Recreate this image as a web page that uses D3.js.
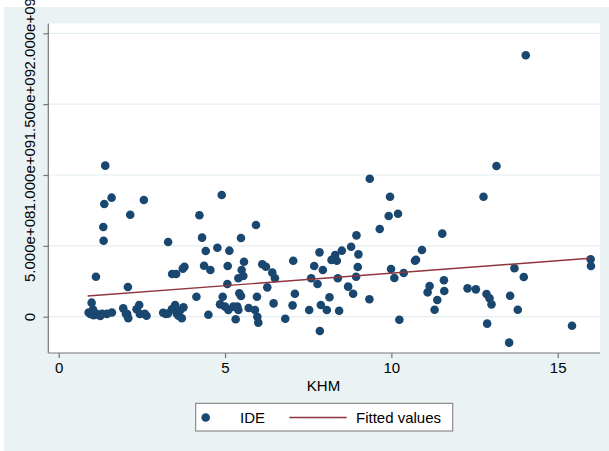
<!DOCTYPE html>
<html>
<head>
<meta charset="utf-8">
<script src="https://cdn.jsdelivr.net/npm/d3@7"></script>
<style>
  body { margin: 0; background: #fff; }
  svg text { font-family: 'Liberation Sans', Arial, sans-serif; font-size: 15px; fill: #000; }
</style>
</head>
<body>
<div id="chart"></div>
<script>
// KHM (x) and IDE (y)
const khm = [
  0.90, 0.95, 1.00, 1.05, 1.10, 1.17, 1.25, 1.30, 1.45, 1.60, 0.99, 1.03, 1.12, 1.34, 1.35, 1.37, 1.40, 1.59,
  1.94, 2.02, 2.06, 2.09, 2.08, 2.15, 2.34, 2.42, 2.44, 2.56, 2.59, 2.64,
  3.14, 3.22, 3.28, 3.29, 3.40, 3.41, 3.50, 3.53, 3.55, 3.60, 3.65, 3.70, 3.73, 3.75, 3.78,
  4.14, 4.23, 4.31, 4.37, 4.42, 4.50, 4.56, 4.77, 4.85, 4.90, 4.93, 5.00, 5.07, 5.08, 5.10, 5.13, 5.25,
  5.32, 5.37, 5.40, 5.40, 5.43, 5.48, 5.48, 5.50, 5.55, 5.57, 5.71, 5.90, 5.93, 5.96, 5.97, 6.00,
  6.12, 6.23, 6.27, 6.42, 6.46, 6.50, 6.81, 7.03, 7.05, 7.10,
  7.53, 7.59, 7.68, 7.78, 7.84, 7.85, 7.88, 7.94, 8.06, 8.14, 8.20, 8.24, 8.31, 8.36, 8.39, 8.43, 8.51,
  8.70, 8.79, 8.85, 8.94, 8.95, 8.99, 9.01, 9.34, 9.35, 9.65, 9.92, 9.96, 9.99, 10.09, 10.20, 10.24,
  10.37, 10.71, 10.74, 10.92, 11.09, 11.15, 11.30, 11.38, 11.53, 11.58, 11.59, 12.29, 12.54, 12.77,
  12.86, 12.88, 12.95, 13.01, 13.16, 13.54, 13.57, 13.70, 13.80, 13.98, 14.04, 15.43, 15.99, 16.00
]
const ide = [
  0.030e9, 0.020e9, 0.030e9, 0.010e9, 0.025e9, 0.015e9, 0.005e9, 0.020e9, 0.020e9, 0.030e9, 0.099e9, 0.050e9, 0.282e9, 0.633e9, 0.536e9, 0.795e9, 1.066e9, 0.840e9,
  0.059e9, 0.020e9, 0.019e9, -0.011e9, 0.210e9, 0.720e9, 0.052e9, 0.083e9, 0.019e9, 0.824e9, 0.020e9, 0.007e9,
  0.028e9, 0.020e9, 0.021e9, 0.527e9, 0.052e9, 0.301e9, 0.083e9, 0.301e9, 0.021e9, 0.007e9, 0.045e9, -0.011e9, 0.339e9, 0.066e9, 0.353e9,
  0.141e9, 0.716e9, 0.558e9, 0.360e9, 0.464e9, 0.014e9, 0.330e9, 0.487e9, 0.087e9, 0.859e9, 0.141e9, 0.071e9, 0.231e9, 0.358e9, 0.047e9, 0.466e9, 0.071e9,
  -0.018e9, 0.071e9, 0.047e9, 0.271e9, 0.165e9, 0.146e9, 0.555e9, 0.330e9, 0.287e9, 0.388e9, 0.061e9, 0.047e9, 0.647e9, 0.141e9, 0.000e9, -0.042e9,
  0.370e9, 0.353e9, 0.207e9, 0.311e9, 0.094e9, 0.271e9, -0.014e9, 0.080e9, 0.395e9, 0.162e9,
  0.047e9, 0.271e9, 0.358e9, 0.231e9, 0.454e9, -0.101e9, 0.083e9, 0.330e9, 0.047e9, 0.137e9, 0.400e9, 0.405e9, 0.435e9, 0.395e9, 0.271e9, 0.042e9, 0.466e9,
  0.212e9, 0.494e9, 0.162e9, 0.282e9, 0.574e9, 0.351e9, 0.440e9, 0.123e9, 0.974e9, 0.619e9, 0.711e9, 0.847e9, 0.337e9, 0.273e9, 0.727e9, -0.021e9,
  0.308e9, 0.395e9, 0.402e9, 0.471e9, 0.172e9, 0.217e9, 0.049e9, 0.118e9, 0.586e9, 0.257e9, 0.181e9, 0.200e9, 0.193e9, 0.847e9,
  0.160e9, -0.049e9, 0.130e9, 0.087e9, 1.063e9, -0.183e9, 0.148e9, 0.342e9, 0.049e9, 0.280e9, 1.845e9, -0.064e9, 0.405e9, 0.358e9
]

// fitted values line (end points)
const fitX = [0.87, 15.97]
const fitY = [0.146e9, 0.412e9]

const xTicks = [0, 5, 10, 15]
const yTicks = [0, 5e8, 1e9, 1.5e9, 2e9]
const yTickLabels = ['0', '5.000e+08', '1.000e+09', '1.500e+09', '2.000e+09']

const width = 609,
  height = 451

const navy = '#1a476f',
  maroon = '#90353b'

// plot region
const plotLeft = 48.3, plotRight = 600, plotTop = 23.5, plotBottom = 353

let svg = d3.select('#chart')
  .append('svg')
  .attr('width', width)
  .attr('height', height)

// graph region background
svg.append('rect')
  .attr('x', 4).attr('y', 7)
  .attr('width', width - 4).attr('height', height - 7)
  .attr('fill', '#eaf2f3')

svg.append('rect')
  .attr('x', plotLeft).attr('y', plotTop)
  .attr('width', plotRight - plotLeft).attr('height', plotBottom - plotTop)
  .attr('fill', '#fff')

const x = d3.scaleLinear().domain([0, 15]).range([58.7, 557.7])
const y = d3.scaleLinear().domain([0, 2e9]).range([316.7, 33.3])

// grid lines
svg.append('g')
  .selectAll('line')
  .data(yTicks)
  .enter()
  .append('line')
  .attr('x1', plotLeft).attr('x2', plotRight)
  .attr('y1', d => y(d)).attr('y2', d => y(d))
  .attr('stroke', '#e4eef0')
  .attr('stroke-width', 1.2)

// points
svg.append('g')
  .selectAll('circle')
  .data(khm)
  .enter()
  .append('circle')
  .attr('cx', d => x(d))
  .attr('cy', (d, i) => y(ide[i]))
  .attr('r', 4.3)
  .attr('fill', navy)

// fitted line
svg.append('path')
  .datum(fitX)
  .attr('d', d3.line().x(d => x(d)).y((d, i) => y(fitY[i])))
  .attr('stroke', maroon)
  .attr('stroke-width', 1.4)
  .attr('fill', 'none')

// axes
let xAxis = svg.append('g')
  .attr('transform', `translate(0, ${plotBottom})`)
  .call(d3.axisBottom(x).tickValues(xTicks).tickSize(5).tickSizeOuter(0).tickPadding(4))
xAxis.select('.domain').attr('d', `M${plotLeft},0H${plotRight}`)

let yAxis = svg.append('g')
  .attr('transform', `translate(${plotLeft}, 0)`)
  .call(d3.axisLeft(y).tickValues(yTicks).tickSize(5).tickSizeOuter(0)
    .tickFormat((d, i) => yTickLabels[i]))
yAxis.select('.domain').attr('d', `M0,${plotTop}V${plotBottom}`)

yAxis.selectAll('text')
  .attr('text-anchor', 'middle')
  .attr('transform', 'rotate(-90)')
  .attr('x', 0)
  .attr('y', -18.5)
  .attr('dy', '0.35em')

svg.selectAll('.domain, .tick line').attr('stroke', '#777').attr('stroke-width', 1.2)
svg.selectAll('.tick text').style('font-size', '15px').attr('fill', '#000')

// axis title
svg.append('text')
  .attr('x', 323.5).attr('y', 386)
  .attr('dy', '0.35em')
  .attr('text-anchor', 'middle')
  .text('KHM')

// legend
let legend = svg.append('g')
legend.append('rect')
  .attr('x', 195.7).attr('y', 403.3)
  .attr('width', 257).attr('height', 27.7)
  .attr('fill', '#fff')
  .attr('stroke', '#777')
  .attr('stroke-width', 1)
legend.append('circle')
  .attr('cx', 205.7).attr('cy', 417.5).attr('r', 4.3)
  .attr('fill', navy)
legend.append('text')
  .attr('x', 240).attr('y', 417.5).attr('dy', '0.35em')
  .text('IDE')
legend.append('line')
  .attr('x1', 289.3).attr('x2', 346.7)
  .attr('y1', 417.5).attr('y2', 417.5)
  .attr('stroke', maroon)
  .attr('stroke-width', 1.4)
legend.append('text')
  .attr('x', 356).attr('y', 417.5).attr('dy', '0.35em')
  .text('Fitted values')
</script>
</body>
</html>
